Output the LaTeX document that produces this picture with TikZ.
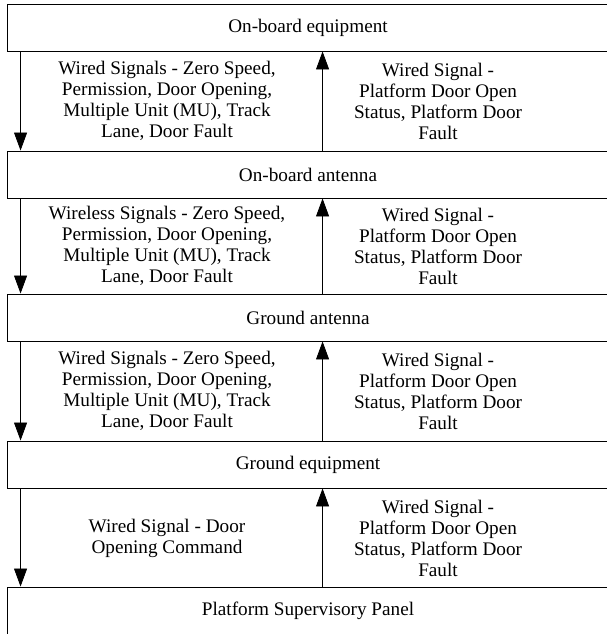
\documentclass[tikz,border=0pt]{standalone}
\usepackage{fontspec}
\setmainfont{Liberation Serif}
\usetikzlibrary{arrows.meta, positioning}

\begin{document}
\begin{tikzpicture} [on grid, x=1pt, y=1pt,
        box/.style = {draw, line width=0.9pt, minimum width=602pt, minimum height=47pt,
                      inner sep=0pt, font=\fontsize{19.2}{21}\selectfont},
        sig/.style = {align=center, inner sep=0pt, font=\fontsize{19.2}{21}\selectfont},
        flow/.style = {-{Triangle[width=13pt, length=18pt]}, line width=0.8pt}]
        \useasboundingbox (0,0) rectangle (606,-634);
        \node (obe) [box] at (308,-27.5) {On-board equipment};
        \node (oba) [box, below = 147pt of obe] {On-board antenna};
        \node (gna) [box, below = 143pt of oba] {Ground antenna};
        \node (gne) [box, below = 147pt of gna] {Ground equipment};
        \node (psp) [box, below = 146pt of gne] {Platform Supervisory Panel};

        % downward signals
        \node (dn1) [sig] at (167,-101) {Wired Signals - Zero Speed,\\ Permission, Door Opening,\\ Multiple Unit (MU), Track\\ Lane, Door Fault};
        \node (dn2) [sig] at (167,-246) {Wireless Signals - Zero Speed,\\ Permission, Door Opening,\\ Multiple Unit (MU), Track\\ Lane, Door Fault};
        \node (dn3) [sig] at (167,-391) {Wired Signals - Zero Speed,\\ Permission, Door Opening,\\ Multiple Unit (MU), Track\\ Lane, Door Fault};
        \node (dn4) [sig] at (167,-538) {Wired Signal - Door\\ Opening Command};

        % upward signals
        \node (up1) [sig] at (438,-101) {Wired Signal -\\ Platform Door Open\\ Status, Platform Door\\ Fault};
        \node (up2) [sig] at (438,-246) {Wired Signal -\\ Platform Door Open\\ Status, Platform Door\\ Fault};
        \node (up3) [sig] at (438,-391) {Wired Signal -\\ Platform Door Open\\ Status, Platform Door\\ Fault};
        \node (up4) [sig] at (438,-538) {Wired Signal -\\ Platform Door Open\\ Status, Platform Door\\ Fault};

        \path [flow] ([xshift=14pt]obe.south west) edge ([xshift=14pt]oba.north west);
        \path [flow] ([xshift=14pt]oba.south west) edge ([xshift=14pt]gna.north west);
        \path [flow] ([xshift=14pt]gna.south west) edge ([xshift=14pt]gne.north west);
        \path [flow] ([xshift=14pt]gne.south west) edge ([xshift=14pt]psp.north west);

        \path [flow] ([xshift=316pt]oba.north west) edge ([xshift=316pt]obe.south west);
        \path [flow] ([xshift=316pt]gna.north west) edge ([xshift=316pt]oba.south west);
        \path [flow] ([xshift=316pt]gne.north west) edge ([xshift=316pt]gna.south west);
        \path [flow] ([xshift=316pt]psp.north west) edge ([xshift=316pt]gne.south west);
    \end{tikzpicture}
\end{document}
